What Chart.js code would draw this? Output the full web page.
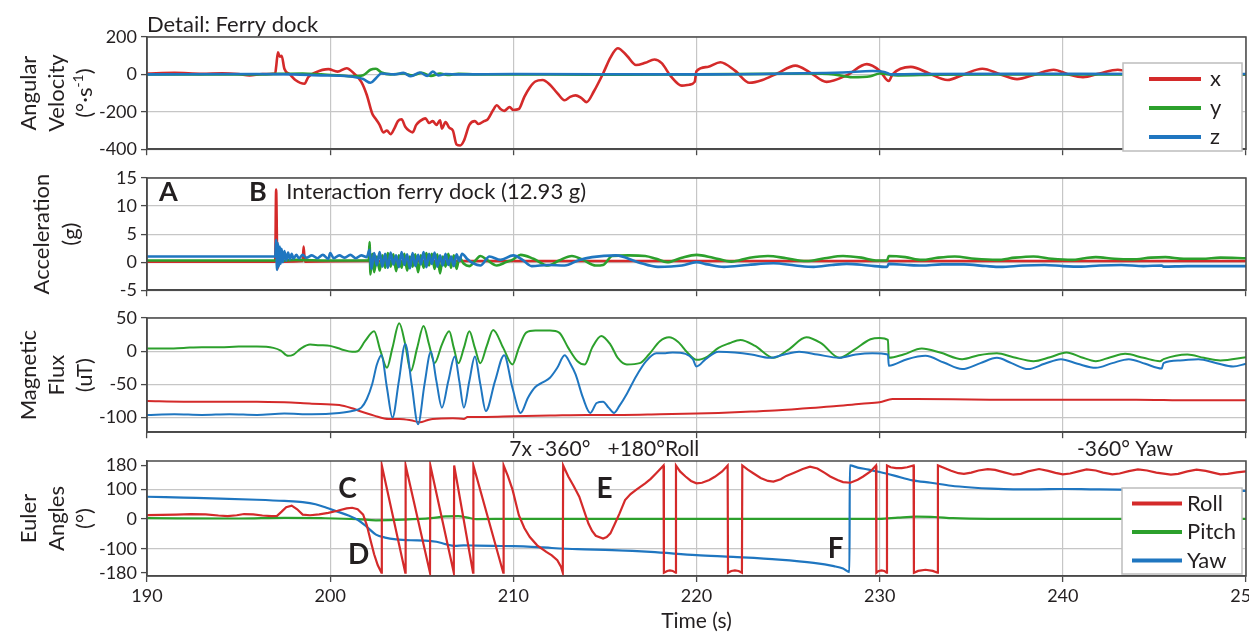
<!DOCTYPE html>
<html>
<head>
<meta charset="utf-8">
<title>Detail: Ferry dock</title>
<script src="https://cdn.jsdelivr.net/npm/chart.js@4.4.1/dist/chart.umd.min.js"></script>
<style>
    body { margin: 0; background: #fff; }
    #wrap { position: relative; width: 1249px; height: 636px; overflow: hidden; }
    #wrap canvas { position: absolute; left: 0; }
</style>
</head>
<body>
<div id="wrap">
    <canvas id="gyro-chart" width="1249" height="164" style="top:0px"></canvas>
    <canvas id="acc-chart" width="1249" height="157" style="top:148px"></canvas>
    <canvas id="mag-chart" width="1249" height="159" style="top:288px"></canvas>
    <canvas id="euler-chart" width="1249" height="205" style="top:431px"></canvas>
</div>
<script>
/**
 * sensor data, [time (s), value]
 */
const timeTicks = [190, 200, 210, 220, 230, 240, 250];

// angular velocity (deg/s)
const gyroTicks = [200, 0, -200, -400];
const gyroX = [
    [190, 5], [191.5, 8], [193, 3], [194.1, 6], [195, 2], [195.6, -5], [196.3, 2], [197.0, 5],
    [197.05, 40], [197.15, 118], [197.25, 95], [197.35, 100], [197.5, 30], [197.8, 0], [198.1, -30],
    [198.6, -50], [198.8, -15], [199.2, 10], [199.9, 28], [200.4, 15], [200.9, 33], [201.3, 5],
    [201.7, -40], [202.0, -110], [202.3, -210], [202.5, -240], [202.7, -270], [202.9, -310],
    [203.1, -300], [203.3, -320], [203.5, -290], [203.7, -250], [203.9, -240], [204.1, -280],
    [204.3, -300], [204.5, -310], [204.7, -270], [204.9, -250], [205.2, -235], [205.4, -260],
    [205.6, -250], [205.8, -270], [206.0, -245], [206.1, -290], [206.3, -255], [206.5, -285],
    [206.7, -300], [206.9, -375], [207.1, -380], [207.3, -355], [207.6, -270], [207.9, -250],
    [208.1, -265], [208.4, -250], [208.6, -240], [208.9, -190], [209.1, -165], [209.3, -185],
    [209.5, -195], [209.8, -175], [210.0, -190], [210.3, -185], [210.6, -120], [210.9, -70],
    [211.2, -38], [211.6, -30], [212.0, -55], [212.4, -100], [212.8, -138], [213.1, -120],
    [213.4, -112], [213.7, -125], [214.0, -148], [214.4, -90], [214.9, 5], [215.3, 90],
    [215.7, 140], [216.2, 100], [216.7, 50], [217.2, 62], [217.7, 80], [218.1, 60], [218.6, -10],
    [219.2, -60], [219.6, -55], [219.9, -40], [220.0, 18], [220.6, 40], [221.3, 65], [222.1, 20],
    [222.9, -45], [223.6, -30], [224.4, 5], [225.4, 47], [226.2, 10], [227.1, -40], [228.2, -5],
    [229.3, 55], [230.0, 20], [230.5, -35], [230.7, 0], [231.7, 40], [232.7, 5], [233.7, -30],
    [234.6, 0], [235.6, 30], [236.6, 0], [237.5, -25], [238.5, 0], [239.5, 25], [240.3, 0],
    [241.1, -15], [242.0, 5], [243.0, 25], [244.0, 0], [245.0, -15], [246.0, 5], [247.0, 20],
    [248.0, 5], [249.0, -10], [250.0, 0]
];
const gyroY = [
    [190, 0], [196, 0], [197.2, 3], [198.5, 5], [199.5, 0], [200.5, -5], [201.2, -10], [201.8, -5],
    [202.2, 25], [202.5, 30], [202.8, 10], [203.3, 0], [204.0, 5], [204.5, -5], [205.0, 8],
    [205.5, -8], [206.0, 5], [206.4, -3], [207.0, 3], [208.0, 0], [212, 0], [216, -2], [220, 0],
    [224, 3], [226, 5], [227.5, 0], [228.5, -15], [229.5, -10], [230.0, 5], [231.0, -5],
    [233.0, -2], [236.0, 0], [250, 0]
];
const gyroZ = [
    [190, 0], [196, 2], [198, 0], [199.5, -5], [201.0, -10], [201.8, -25], [202.2, -45],
    [202.5, -20], [202.8, 5], [203.5, 0], [204.0, 8], [204.4, -10], [204.9, 10], [205.3, -8],
    [205.6, 15], [205.9, -5], [206.3, 2], [207.0, 0], [210, 2], [220, 0], [225, 5], [228, 10],
    [229.6, 18], [230.3, 12], [230.6, 0], [232, 2], [240, 3], [250, 2]
];

// acceleration (g)
const accTicks = [15, 10, 5, 0, -5];
const accX = [
    [190, 0.1], [197.0, 0.1], [197.05, 12.93], [197.12, -1.2], [197.2, 0.4], [197.4, 0.1],
    [198.5, 0.2], [198.55, 2.8], [198.62, 0.1], [202, 0.2], [204.2, 0.1], [204.25, -1.0],
    [204.3, 0.2], [210, 0.2], [250, 0.2]
];
const accY = [
    [190, 0.3], [197.0, 0.3], [197.1, 0.5], [197.2, 0.2], [198, 0.4], [200, 0.3], [202.1, 0.3],
    [202.15, 3.6], [202.2, -2.2], [202.3, 1.5], [202.4, -1.8], [202.55, 1.0], [202.7, -1.5],
    [202.85, 1.2], [203.0, -1.0], [203.15, 1.6], [203.3, -0.8], [203.45, 1.4], [203.6, -1.6],
    [203.75, 1.2], [203.9, -1.0], [204.05, 1.5], [204.2, -1.5], [204.35, 1.0], [204.5, -0.8],
    [204.65, 1.4], [204.8, -1.8], [204.95, 1.2], [205.1, -1.0], [205.25, 1.6], [205.4, -0.6],
    [205.55, 1.5], [205.7, -1.2], [205.85, 1.4], [206.0, -2.0], [206.15, 1.0], [206.3, -0.8],
    [206.45, 1.5], [206.6, -1.0], [206.75, 1.2], [206.9, -1.2], [207.05, 0.8], [207.3, -0.3],
    [207.6, -0.7], [207.9, 0.2], [208.2, 1.1], [208.6, 0.3], [209.1, -0.6], [209.6, 0],
    [210.0, 0.5], [210.4, 1.3], [211.1, 0.6], [211.9, -0.6], [212.5, 0.3], [213.2, 1.1],
    [213.8, 0.4], [214.5, -0.6], [214.9, -0.5], [215.4, 1.1], [216.3, 1.2], [217.2, 1.1],
    [217.8, 0.6], [218.4, 0], [219.2, 0.8], [220, 1.3], [220.9, 0.8], [221.9, 0.1], [222.9, 0.8],
    [223.9, 1.1], [224.9, 0.7], [226, 0.2], [227, 0.7], [228, 1.1], [229, 0.8], [229.8, 0.3],
    [230.4, 0.3], [230.5, 1.1], [231.4, 0.9], [232.3, 0.4], [233.2, 0.8], [234.1, 1.0],
    [235.2, 0.6], [236.4, 0.4], [237.4, 0.8], [238.4, 1.0], [239.4, 0.6], [240.5, 0.4],
    [241.2, 0.7], [241.8, 0.9], [242.8, 0.6], [243.8, 0.5], [244.8, 0.8], [245.6, 0.9],
    [246.6, 0.6], [247.6, 0.6], [248.6, 0.8], [250, 0.7]
];
const accZ = [
    [190, 1.0], [197.0, 1.0], [197.05, 4.0], [197.1, -1.4], [197.15, 3.4], [197.2, -0.8],
    [197.25, 2.8], [197.3, -0.3], [197.35, 2.4], [197.42, 0], [197.5, 2.0], [197.6, 0.3],
    [197.7, 1.7], [197.8, 0.5], [197.9, 1.5], [198.0, 0.6], [198.15, 1.3], [198.3, 0.7],
    [198.5, 1.3], [198.7, 0.8], [199.0, 1.2], [199.3, 0.7], [199.6, 1.3], [199.9, 0.6],
    [200.0, 1.6], [200.2, 0.7], [200.5, 1.2], [200.8, 0.8], [201.1, 1.3], [201.4, 0.7],
    [201.7, 1.2], [202.0, 0.9], [202.15, 2.2], [202.25, -1.2], [202.4, 1.6], [202.55, -0.6],
    [202.7, 1.8], [202.85, -0.8], [203.0, 1.5], [203.15, -1.0], [203.3, 1.7], [203.45, -0.4],
    [203.6, 1.2], [203.75, -0.9], [203.9, 1.8], [204.05, -0.5], [204.2, 1.4], [204.35, -1.1],
    [204.5, 1.6], [204.65, -0.7], [204.8, 1.3], [204.95, -0.4], [205.1, 1.8], [205.25, -0.9],
    [205.4, 1.5], [205.55, -0.3], [205.7, 1.7], [205.85, -0.8], [206.0, 1.2], [206.15, -0.6],
    [206.3, 1.5], [206.45, -0.5], [206.6, 1.0], [206.75, -0.7], [206.9, 1.4], [207.05, 0.2],
    [207.2, 1.5], [207.5, 0.5], [207.8, -0.2], [208.2, -0.6], [208.7, 1.0], [209.3, 0.4],
    [210.0, 1.2], [210.5, 0.4], [211.0, -0.7], [211.9, -0.5], [212.8, -0.6], [213.6, 0.4],
    [214.3, 0.9], [215.6, 1.2], [216.8, 0.0], [217.9, -0.85], [219.2, -0.6], [220.0, 0.0],
    [220.6, -0.4], [221.5, -0.85], [222.8, -0.5], [224.2, -0.2], [225.4, -0.6], [226.4, -0.85],
    [227.4, -0.5], [228.2, -0.3], [229.4, -0.6], [230.4, -0.85], [230.5, -0.3], [231.5, -0.5],
    [232.3, -0.6], [233.4, -0.4], [234.6, -0.4], [235.8, -0.7], [236.6, -0.85], [237.8, -0.6],
    [239, -0.5], [240, -0.7], [241, -0.8], [242, -0.6], [243.2, -0.5], [244.4, -0.7],
    [245.4, -0.6], [245.5, -0.8], [246.8, -0.7], [248, -0.7], [250, -0.7]
];

// magnetic flux (uT)
const magTicks = [50, 0, -50, -100];
const magX = [
    [190, -75], [192, -76], [194, -76], [196, -76], [197.5, -77], [199, -79], [200.5, -81],
    [201.2, -86], [201.6, -90], [202.4, -97], [203.2, -102], [203.8, -102], [204.4, -104],
    [204.9, -107], [205.3, -104], [205.6, -102], [206.7, -101], [207.3, -102], [207.5, -99],
    [208.5, -99], [210, -98], [212, -97], [214, -96], [216, -96], [218, -95], [220, -94],
    [221.2, -93], [223, -91], [224.5, -89], [226, -86], [227.5, -83], [229, -79], [230, -77],
    [230.7, -72], [232, -72], [236, -73], [240, -73], [244, -73], [247, -74], [250, -74]
];
const magY = [
    [190, 4], [191, 4], [192, 5], [193, 6], [194, 6], [195, 7], [196, 7], [196.9, 5], [197.3, 1],
    [197.7, -7], [198.0, -5], [198.4, 4], [198.9, 10], [199.4, 9], [200.0, 8], [200.6, 3],
    [201.2, -1], [201.5, 0], [201.9, 15], [202.4, 30], [202.75, 0], [203.1, -25], [203.4, 5],
    [203.77, 42], [204.1, 10], [204.4, -30], [204.75, 5], [205.1, 38], [205.4, 10], [205.7, -18],
    [206.1, 10], [206.5, 30], [206.75, 5], [207.0, -18], [207.3, 5], [207.6, 30], [207.9, 5],
    [208.2, -18], [208.55, 8], [208.9, 32], [209.45, 5], [209.95, -20], [210.3, 5], [210.7, 28],
    [211.2, 31], [212.0, 31], [212.5, 28], [213.0, 5], [213.5, -15], [213.9, -20], [214.3, 5],
    [214.8, 23], [215.3, 10], [215.7, -10], [216.2, -20], [216.9, -18], [217.4, -5], [218.0, 15],
    [218.5, 21], [219.0, 14], [219.5, -2], [220.0, -13], [220.6, -8], [221.2, 5], [221.8, 12],
    [222.4, 17], [223.2, 8], [224.2, -10], [225.0, 2], [226.0, 21], [226.8, 12], [227.8, -10],
    [228.6, 2], [229.5, 18], [230.0, 20], [230.45, 17], [230.5, -10], [231.3, -5], [232.3, 4],
    [233.3, -2], [234.5, -12], [235.4, -6], [236.4, -3], [237.3, -9], [238.4, -15], [239.3, -9],
    [240.2, -2], [241.0, -9], [241.8, -15], [242.6, -9], [243.4, -4], [244.4, -10], [245.3, -15],
    [245.5, -12], [246.8, -5], [247.7, -10], [248.6, -14], [250.0, -9]
];
const magZ = [
    [190, -96], [191.5, -95], [193, -96], [194.5, -95], [196, -96], [197.5, -94], [199, -95],
    [200.5, -93], [201.2, -90], [201.7, -85], [202.0, -72], [202.3, -49], [202.55, -20],
    [202.8, -6], [203.1, -55], [203.4, -100], [203.75, -45], [204.1, 11], [204.45, -50],
    [204.8, -110], [205.15, -50], [205.5, -1], [205.8, -45], [206.1, -85], [206.45, -45],
    [206.8, -8], [207.05, -45], [207.3, -85], [207.6, -45], [207.9, -8], [208.2, -50],
    [208.5, -90], [209.0, -45], [209.5, -6], [209.95, -55], [210.4, -93], [210.8, -70],
    [211.2, -54], [211.6, -47], [212.0, -40], [212.4, -25], [212.8, -6], [213.1, -18],
    [213.4, -35], [213.8, -70], [214.2, -93], [214.55, -78], [214.9, -76], [215.2, -85],
    [215.5, -93], [215.8, -82], [216.2, -64], [216.7, -38], [217.25, -15], [217.8, -3],
    [218.3, -3], [218.7, -2], [219.4, -4], [219.8, -12], [220.0, -23], [220.5, -12], [221.2, -1],
    [222.1, -2], [223.0, -5], [224.0, -10], [224.8, -5], [225.6, -1], [226.6, -5], [227.8, -10],
    [228.7, -5], [229.6, -3], [230.45, -5], [230.5, -22], [231.5, -12], [232.5, -7], [233.5, -17],
    [234.5, -27], [235.5, -18], [236.4, -10], [237.2, -18], [238.1, -27], [239.0, -19],
    [239.9, -12], [240.8, -19], [241.8, -25], [242.7, -18], [243.6, -12], [244.5, -19],
    [245.4, -26], [245.5, -18], [246.4, -14], [247.4, -12], [248.4, -18], [249.3, -23], [250.0, -19]
];

// euler angles (deg)
const eulerTicks = [180, 100, 0, -100, -180];
const roll = [
    [190.0, 13], [190.8, 14], [191.6, 15], [192.4, 17], [193.2, 16], [193.9, 12], [194.4, 10],
    [194.9, 13], [195.3, 17], [195.8, 16], [196.3, 12], [196.8, 10], [197.1, 11], [197.35, 25],
    [197.6, 40], [197.9, 45], [198.2, 33], [198.5, 15], [198.9, 13], [199.4, 16], [199.9, 21],
    [200.4, 28], [200.9, 36], [201.2, 38], [201.5, 33], [201.8, 15], [202.0, -20], [202.2, -70],
    [202.4, -118], [202.6, -155], [202.8, -180], [202.82, 180], [204.1, -180], [204.12, 180],
    [205.45, -180], [205.47, 180], [206.75, -180], [206.77, 180], [207.8, -180], [207.82, 180],
    [209.45, -180], [209.47, 180], [209.7, 145], [209.96, 98], [210.3, 13], [210.6, -30],
    [210.9, -60], [211.3, -88], [211.8, -110], [212.1, -122], [212.4, -138], [212.6, -160],
    [212.7, -180], [212.72, 180], [213.0, 143], [213.3, 110], [213.6, 75], [213.85, 30],
    [214.1, -15], [214.3, -40], [214.5, -56], [214.9, -65], [215.1, -60], [215.3, -48],
    [215.55, -15], [215.8, 19], [216.1, 64], [216.4, 84], [216.7, 98], [217.2, 120], [217.5, 135],
    [217.8, 154], [218.2, 180], [218.22, -180], [218.4, -174], [218.55, -172], [218.7, -174],
    [218.86, -180], [218.88, 180], [219.1, 160], [219.4, 143], [219.7, 128], [220.0, 120],
    [220.3, 122], [220.7, 131], [221.0, 142], [221.4, 160], [221.7, 180], [221.72, -180],
    [221.9, -174], [222.1, -172], [222.3, -174], [222.48, -180], [222.5, 180], [222.8, 166],
    [223.1, 154], [223.5, 138], [223.9, 128], [224.2, 126], [224.6, 134], [224.9, 145],
    [225.3, 155], [225.8, 168], [226.2, 176], [226.6, 170], [227.0, 155], [227.3, 143],
    [227.7, 131], [228.0, 124], [228.4, 122], [228.8, 132], [229.1, 143], [229.5, 160],
    [229.8, 180], [229.82, -180], [229.95, -174], [230.1, -172], [230.25, -174], [230.38, -180],
    [230.4, 180], [230.6, 174], [230.9, 171], [231.2, 171], [231.5, 174], [231.85, 180],
    [231.87, -180], [232.1, -174], [232.5, -170], [232.9, -174], [233.16, -180], [233.18, 180],
    [233.5, 172], [233.9, 162], [234.3, 154], [234.6, 152], [235.0, 156], [235.4, 163],
    [235.9, 168], [236.3, 165], [236.8, 157], [237.3, 149], [237.7, 152], [238.1, 160],
    [238.7, 168], [239.2, 162], [239.6, 155], [240.0, 150], [240.4, 153], [240.9, 161],
    [241.3, 167], [241.8, 163], [242.2, 156], [242.7, 150], [243.1, 153], [243.6, 161],
    [244.1, 167], [244.6, 163], [245.1, 156], [245.9, 149], [246.3, 152], [246.8, 160],
    [247.3, 166], [247.8, 162], [248.2, 156], [248.6, 150], [249.0, 152], [249.5, 157], [250.0, 160]
];
const pitch = [
    [190, 3], [195, 2], [197.5, 4], [199.5, 3], [201.5, 0], [202.5, -4], [204, -2], [205.5, 3],
    [206.3, 9], [207.0, 10], [207.5, 5], [208.0, 0], [210, 1], [220, 1], [230, 1], [231, 5],
    [232, 8], [233, 7], [234, 3], [236, 1], [250, 1]
];
const yaw = [
    [190, 75], [192, 72], [194, 69], [196, 65], [197.5, 61], [198.5, 57], [199.2, 50], [199.8, 38],
    [200.4, 25], [201.0, 12], [201.5, -2], [202.0, -26], [202.5, -52], [203.0, -62], [203.6, -68],
    [204.4, -71], [205.2, -72], [205.8, -76], [206.3, -84], [206.8, -90], [207.3, -88],
    [208.0, -89], [208.9, -90], [210, -91], [211, -93], [212.1, -97], [213.5, -101],
    [215.4, -104], [217.5, -110], [220, -121], [222, -127], [224.5, -136], [226.4, -147],
    [227.5, -158], [228.0, -166], [228.35, -178], [228.37, 180], [228.8, 173], [229.4, 166],
    [230.0, 158], [230.8, 146], [231.8, 130], [232.8, 122], [233.9, 112], [235, 106],
    [236.1, 102], [237.3, 100], [238.5, 100], [240, 101], [241.5, 100], [243, 99], [245, 97],
    [247, 96], [250, 95]
];

/**
 * styles
 */
const RED = '#d42a2a';
const GREEN = '#2ca02c';
const BLUE = '#1f76c0';
const INK = '#231f20';
const AXIS = '#4a4a4a';
const GRID = '#c6c6c6';
const FONT = 'Lato, "Open Sans", sans-serif';
const AXIS_WIDTH = 147;

function toPoints(pairs) {
    return pairs.map(([x, y]) => ({ x, y }));
}

function line(label, pairs, color, width, order, smooth = true) {
    return {
        label: label,
        data: toPoints(pairs),
        borderColor: color,
        borderWidth: width,
        pointRadius: 0,
        fill: false,
        order: order,
        tension: smooth ? 0.4 : 0,
        cubicInterpolationMode: smooth ? 'monotone' : 'default'
    };
}

// box around the plot area
const frame = {
    id: 'frame',
    afterDatasetsDraw(chart) {
        const { ctx, chartArea: a } = chart;
        ctx.save();
        ctx.strokeStyle = AXIS;
        ctx.lineWidth = 1.5;
        ctx.strokeRect(a.left, a.top, a.right - a.left, a.bottom - a.top);
        ctx.restore();
    }
};

// rotated multi-line y axis title, parts with {sup} are raised
const sideTitle = {
    id: 'sideTitle',
    afterDraw(chart, args, opts) {
        if (!opts.lines) return;
        const { ctx, chartArea: a } = chart;
        const cy = (a.top + a.bottom) / 2;
        const big = `22px ${FONT}`;
        const small = `14px ${FONT}`;
        ctx.save();
        ctx.fillStyle = INK;
        ctx.textBaseline = 'middle';
        ctx.textAlign = 'left';
        opts.lines.forEach((parts, i) => {
            const list = Array.isArray(parts) ? parts : [parts];
            let total = 0;
            list.forEach(p => {
                ctx.font = typeof p === 'string' ? big : small;
                total += ctx.measureText(typeof p === 'string' ? p : p.sup).width;
            });
            ctx.save();
            ctx.translate(opts.x[i], cy);
            ctx.rotate(-Math.PI / 2);
            let pos = -total / 2;
            list.forEach(p => {
                const sup = typeof p !== 'string';
                const text = sup ? p.sup : p;
                ctx.font = sup ? small : big;
                ctx.fillText(text, pos, sup ? -7 : 0);
                pos += ctx.measureText(text).width;
            });
            ctx.restore();
        });
        ctx.restore();
    }
};

// free text placed in data coordinates
const notes = {
    id: 'notes',
    afterDraw(chart, args, opts) {
        const { ctx, scales } = chart;
        ctx.save();
        ctx.fillStyle = INK;
        ctx.textAlign = 'left';
        ctx.textBaseline = 'alphabetic';
        (opts.items || []).forEach(n => {
            ctx.font = `${n.bold ? 'bold ' : ''}${n.size}px ${FONT}`;
            ctx.fillText(n.text, scales.x.getPixelForValue(n.x), scales.y.getPixelForValue(n.y));
        });
        ctx.restore();
    }
};

// boxed legend inside the plot
const legendBox = {
    id: 'legendBox',
    afterDraw(chart, args, opts) {
        if (!opts.show) return;
        const { ctx, chartArea: a } = chart;
        const x = a.right - opts.right - opts.width;
        const y = a.top + opts.top;
        ctx.save();
        ctx.fillStyle = '#fff';
        ctx.fillRect(x, y, opts.width, opts.height);
        ctx.strokeStyle = '#bdbdbd';
        ctx.lineWidth = 1.5;
        ctx.strokeRect(x, y, opts.width, opts.height);
        ctx.font = `22px ${FONT}`;
        ctx.textBaseline = 'middle';
        ctx.textAlign = 'left';
        chart.data.datasets.forEach((ds, i) => {
            const ry = y + opts.first + i * opts.gap;
            ctx.strokeStyle = ds.borderColor;
            ctx.lineWidth = 4;
            ctx.beginPath();
            ctx.moveTo(x + opts.lineFrom, ry);
            ctx.lineTo(x + opts.lineTo, ry);
            ctx.stroke();
            ctx.fillStyle = INK;
            ctx.fillText(ds.label, x + opts.textAt, ry);
        });
        ctx.restore();
    }
};

function makePanel(id, cfg) {
    const ctx = document.getElementById(id).getContext('2d');
    const hidden = cfg.hideGrid || [];
    return new Chart(ctx, {
        type: 'line',
        data: { datasets: cfg.datasets },
        plugins: [frame, sideTitle, notes, legendBox],
        options: {
            responsive: false,
            animation: false,
            devicePixelRatio: 1,
            events: [],
            layout: { autoPadding: false, padding: { top: cfg.padTop, right: 3, left: 0, bottom: 0 } },
            plugins: {
                legend: { display: false },
                tooltip: { enabled: false },
                sideTitle: { lines: cfg.title, x: cfg.titleX },
                notes: { items: cfg.notes || [] },
                legendBox: cfg.legend || { show: false }
            },
            scales: {
                x: {
                    type: 'linear',
                    min: 190,
                    max: 250,
                    afterBuildTicks: s => { s.ticks = timeTicks.map(v => ({ value: v })); },
                    afterFit: s => { s.height = cfg.xHeight; s.paddingLeft = 0; s.paddingRight = 0; },
                    grid: { color: GRID, lineWidth: 1.2, tickLength: 6, tickColor: AXIS, tickWidth: 1.3 },
                    border: { color: AXIS, width: 1.5 },
                    ticks: {
                        display: !!cfg.xLabels,
                        color: INK,
                        font: { family: FONT, size: 18 },
                        padding: 3,
                        maxRotation: 0,
                        callback: v => String(v)
                    },
                    title: {
                        display: !!cfg.xLabels,
                        text: 'Time (s)',
                        color: INK,
                        font: { family: FONT, size: 21 },
                        padding: { top: 0, bottom: 2 }
                    }
                },
                y: {
                    min: cfg.yMin,
                    max: cfg.yMax,
                    afterBuildTicks: s => { s.ticks = cfg.yTicks.map(v => ({ value: v })); },
                    afterFit: s => { s.width = AXIS_WIDTH; },
                    grid: {
                        color: c => hidden.includes(c.tick.value) ? 'rgba(0,0,0,0)' : GRID,
                        lineWidth: 1.2,
                        tickLength: 6,
                        tickColor: AXIS,
                        tickWidth: 1.3
                    },
                    border: { color: AXIS, width: 1.5 },
                    ticks: {
                        color: INK,
                        font: { family: FONT, size: 18 },
                        padding: 4,
                        callback: v => String(v)
                    }
                }
            }
        }
    });
}

// Angular velocity
makePanel('gyro-chart', {
    padTop: 37, xHeight: 10,
    yMin: -400, yMax: 200, yTicks: gyroTicks,
    title: ['Angular', 'Velocity', ['(°·s', { sup: '-1' }, ')']],
    titleX: [29, 57, 85],
    datasets: [
        line('x', gyroX, RED, 2.6, 2),
        line('y', gyroY, GREEN, 2.6, 1),
        line('z', gyroZ, BLUE, 2.6, 0)
    ],
    notes: [{ text: 'Detail: Ferry dock', x: 190, y: 228, size: 22 }],
    legend: { show: true, right: 4, top: 26, width: 119, height: 88, first: 16, gap: 29, lineFrom: 26, lineTo: 78, textAt: 87 }
});

// Acceleration
makePanel('acc-chart', {
    padTop: 30, xHeight: 10,
    yMin: -5, yMax: 15, yTicks: accTicks,
    title: ['Acceleration', '(g)'],
    titleX: [42, 71],
    datasets: [
        line('x', accX, RED, 2.6, 2),
        line('y', accY, GREEN, 2.6, 1),
        line('z', accZ, BLUE, 2.6, 0)
    ],
    notes: [
        { text: 'A', x: 190.66, y: 10.9, size: 27, bold: true },
        { text: 'B', x: 195.57, y: 10.9, size: 27, bold: true },
        { text: 'Interaction ferry dock (12.93 g)', x: 197.6, y: 11.3, size: 22 }
    ]
});

// Magnetic flux
makePanel('mag-chart', {
    padTop: 30, xHeight: 10,
    yMin: -122, yMax: 50, yTicks: magTicks,
    title: ['Magnetic', 'Flux', '(uT)'],
    titleX: [29, 57, 85],
    datasets: [
        line('x', magX, RED, 2, 2),
        line('y', magY, GREEN, 2, 1),
        line('z', magZ, BLUE, 2, 0)
    ]
});

// Euler angles
makePanel('euler-chart', {
    padTop: 30, xHeight: 60, xLabels: true,
    yMin: -191, yMax: 195, yTicks: eulerTicks, hideGrid: [180, -180],
    title: ['Euler', 'Angles', '(°)'],
    titleX: [29, 57, 85],
    datasets: [
        line('Roll', roll, RED, 2.2, 0, false),
        line('Pitch', pitch, GREEN, 2.2, 2),
        line('Yaw', yaw, BLUE, 2.2, 1)
    ],
    notes: [
        { text: '7x -360°', x: 209.78, y: 212, size: 21 },
        { text: '+180°Roll', x: 215.14, y: 212, size: 21 },
        { text: '-360° Yaw', x: 240.77, y: 212, size: 21 },
        { text: 'C', x: 200.44, y: 72, size: 28, bold: true },
        { text: 'D', x: 200.98, y: -151, size: 28, bold: true },
        { text: 'E', x: 214.54, y: 72, size: 28, bold: true },
        { text: 'F', x: 227.16, y: -131, size: 28, bold: true }
    ],
    legend: { show: true, right: 4, top: 27, width: 120, height: 86, first: 15.5, gap: 28.5, lineFrom: 10, lineTo: 60, textAt: 65 }
});
</script>
</body>
</html>
